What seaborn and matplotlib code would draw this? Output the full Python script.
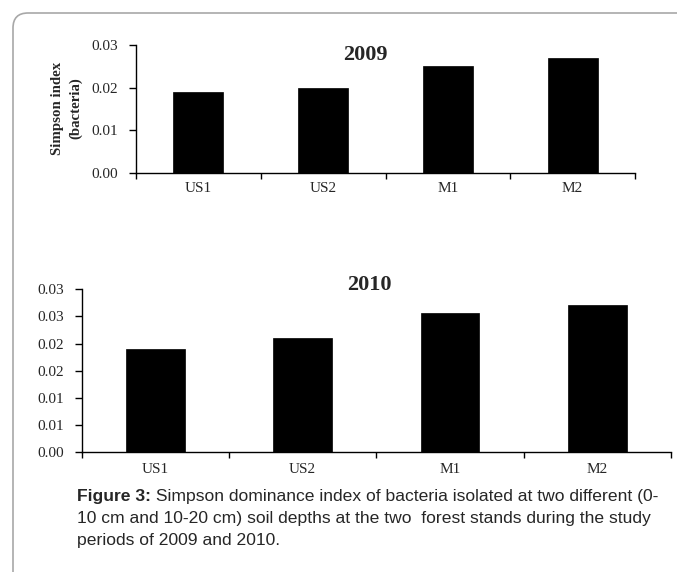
import matplotlib
matplotlib.use('Agg')
import matplotlib.pyplot as plt
import seaborn as sns
import pandas as pd
from matplotlib.patches import FancyBboxPatch

# ---- data ----
sites = ['US1', 'US2', 'M1', 'M2']
simpson_2009 = [0.019, 0.020, 0.025, 0.027]
simpson_2010 = [0.019, 0.021, 0.0256, 0.0271]
yticks_2009 = [0.00, 0.01, 0.02, 0.03]
yticklabels_2009 = ['0.00', '0.01', '0.02', '0.03']
yticks_2010 = [0.000, 0.005, 0.010, 0.015, 0.020, 0.025, 0.030]
yticklabels_2010 = ['0.00', '0.01', '0.01', '0.02', '0.02', '0.03', '0.03']
caption_bold = 'Figure 3:'
caption_line1 = ' Simpson dominance index of bacteria isolated at two different (0-'
caption_line2 = '10 cm and 10-20 cm) soil depths at the two  forest stands during the study'
caption_line3 = 'periods of 2009 and 2010.'

sns.set_theme(style='white')
plt.rcParams['font.family'] = ['Liberation Serif', 'DejaVu Serif']

W, H = 677, 572
fig = plt.figure(figsize=(W / 100, H / 100), dpi=100)
fig.patch.set_facecolor('white')


def rect(l, t, r, b):
    return [l / W, 1 - b / H, (r - l) / W, (b - t) / H]


# border (in inches, so the rounded corner is circular)
border = FancyBboxPatch((13 / 100, -1.0), 8.0, (H - 13) / 100 + 1.0,
                        boxstyle='round,pad=0,rounding_size=0.15',
                        transform=fig.dpi_scale_trans, facecolor='none',
                        edgecolor='#a8a8a8', linewidth=1.2, clip_on=False)
fig.patches.append(border)

ax1 = fig.add_axes(rect(136, 45, 635, 172.7))
ax2 = fig.add_axes(rect(81.7, 289.3, 671, 452.3))

df1 = pd.DataFrame({'site': sites, 'value': simpson_2009})
df2 = pd.DataFrame({'site': sites, 'value': simpson_2010})

sns.barplot(data=df1, x='site', y='value', color='black', saturation=1,
            width=0.4, edgecolor='black', linewidth=0.5, ax=ax1)
sns.barplot(data=df2, x='site', y='value', color='black', saturation=1,
            width=0.4, edgecolor='black', linewidth=0.5, ax=ax2)

tick_fs = 11
for ax, yt, ytl, ypad, xpad in [(ax1, yticks_2009, yticklabels_2009, 8, 7),
                                (ax2, yticks_2010, yticklabels_2010, 7.5, 8)]:
    ax.set_xlim(-0.5, 3.5)
    ax.set_ylim(0, 0.03)
    ax.set_yticks(yt)
    ax.set_yticklabels(ytl, fontsize=tick_fs)
    ax.set_xticks([-0.5, 0.5, 1.5, 2.5, 3.5])
    ax.set_xticklabels([''] * 5)
    ax.set_xticks(range(len(sites)), minor=True)
    ax.set_xticklabels(sites, minor=True, fontsize=tick_fs)
    ax.tick_params(axis='x', which='major', direction='out', length=4,
                   width=1, color='black', bottom=True)
    ax.tick_params(axis='x', which='minor', length=0, pad=xpad, bottom=True)
    ax.tick_params(axis='y', direction='out', length=5, width=1,
                   color='black', pad=ypad, left=True)
    for s in ['top', 'right']:
        ax.spines[s].set_visible(False)
    for s in ['left', 'bottom']:
        ax.spines[s].set_color('black')
        ax.spines[s].set_linewidth(1)
    ax.set_xlabel('')
    ax.set_ylabel('')
    ax.set_facecolor('none')

fig.text(67 / W, 1 - 108.5 / H, 'Simpson index\n(bacteria)', ha='center',
         va='center', rotation=90, fontsize=10.7, fontweight='bold',
         linespacing=1.45)

fig.text(365.5 / W, 1 - 55 / H, '2009', ha='center', va='center',
         fontsize=16, fontweight='bold')
fig.text(369.5 / W, 1 - 285.5 / H, '2010', ha='center', va='center',
         fontsize=16, fontweight='bold')

# caption
cap_font = ['Liberation Sans', 'DejaVu Sans']
cap_size = 12.6
cx = 77 / W
t_b = fig.text(cx, 1 - 497 / H, caption_bold, ha='left', va='center',
               fontsize=cap_size, fontweight='bold', family=cap_font)
fig.canvas.draw()
bb = t_b.get_window_extent(renderer=fig.canvas.get_renderer())
fig.text(bb.x1 / W, 1 - 497 / H, caption_line1, ha='left', va='center',
         fontsize=cap_size, family=cap_font)
fig.text(cx, 1 - 519 / H, caption_line2, ha='left', va='center',
         fontsize=cap_size, family=cap_font)
fig.text(cx, 1 - 541 / H, caption_line3, ha='left', va='center',
         fontsize=cap_size, family=cap_font)

fig.savefig('out.png', dpi=100, facecolor='white')
